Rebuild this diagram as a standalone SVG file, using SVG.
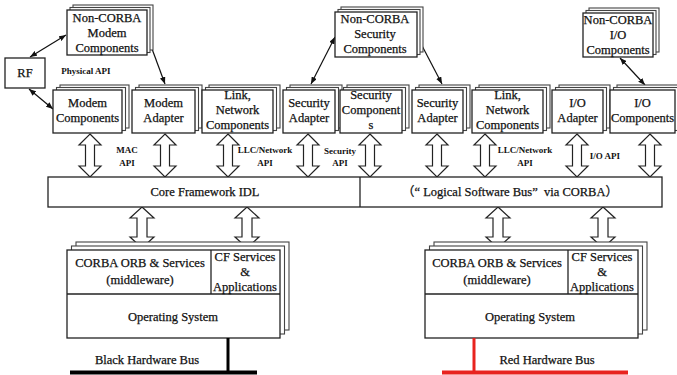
<svg xmlns="http://www.w3.org/2000/svg" width="677" height="375" viewBox="0 0 677 375">
  <defs>
    <style>
      .bx { fill: #fff; stroke: #222; stroke-width: 1.3; }
      .bk { fill: #fff; stroke: #444; stroke-width: 1.1; }
      .t { font-family: "Liberation Serif", "Noto Sans CJK SC", serif; font-size: 12.5px; fill: #111; stroke: #111; stroke-width: 0.25; text-anchor: middle; }
      .s { font-family: "Liberation Serif", serif; font-size: 9px; font-weight: bold; fill: #111; text-anchor: middle; }
      .ln { stroke: #111; stroke-width: 1.2; fill: none; marker-start: url(#ah); marker-end: url(#ah); }
      .blk { fill: #fff; stroke: #222; stroke-width: 1.2; stroke-linejoin: miter; }
    </style>
    <marker id="ah" viewBox="0 0 10 8" refX="10" refY="4" markerWidth="7" markerHeight="5.6" markerUnits="userSpaceOnUse" orient="auto-start-reverse">
      <path d="M0,0 L10,4 L0,8 z" fill="#111"/>
    </marker>
    <!-- hollow double-headed block arrow, centred on x=0, 43 px tall -->
    <polygon id="dbl" points="0,0 11,11 4.5,11 4.5,32 11,32 0,43 -11,32 -4.5,32 -4.5,11 -11,11"/>
    <polygon id="dbl2" points="0,0 12,11 5,11 5,30 12,30 0,41 -12,30 -5,30 -5,11 -12,11"/>
  </defs>
  <rect width="677" height="375" fill="#fff"/>

  <!-- connectors -->
  <g id="connectors">
    <line class="ln" x1="30" y1="57" x2="66" y2="35"/>
    <line class="ln" x1="29" y1="89" x2="53" y2="109"/>
    <line class="ln" x1="148" y1="38" x2="165" y2="84"/>
    <line class="ln" x1="335" y1="37" x2="311" y2="84"/>
    <line class="ln" x1="418" y1="38" x2="442" y2="84"/>
    <line class="ln" x1="620" y1="58" x2="645" y2="85"/>
    <use href="#dbl" class="blk" x="90" y="134"/>
    <use href="#dbl" class="blk" x="165" y="134"/>
    <use href="#dbl" class="blk" x="228" y="134"/>
    <use href="#dbl" class="blk" x="308" y="134"/>
    <use href="#dbl" class="blk" x="370" y="134"/>
    <use href="#dbl" class="blk" x="437" y="134"/>
    <use href="#dbl" class="blk" x="485" y="134"/>
    <use href="#dbl" class="blk" x="577" y="134"/>
    <use href="#dbl" class="blk" x="650" y="134"/>
    <use href="#dbl2" class="blk" x="142" y="207"/>
    <use href="#dbl2" class="blk" x="247" y="207"/>
    <use href="#dbl2" class="blk" x="498" y="207"/>
    <use href="#dbl2" class="blk" x="603" y="207"/>
  </g>

  <!-- API labels -->
  <g id="api-labels">
    <text class="s" x="86" y="74">Physical API</text>
    <text class="s" x="127" y="153">MAC</text>
    <text class="s" x="127" y="166">API</text>
    <text class="s" x="265" y="153">LLC/Network</text>
    <text class="s" x="265" y="166">API</text>
    <text class="s" x="340" y="154">Security</text>
    <text class="s" x="340" y="166">API</text>
    <text class="s" x="525" y="153">LLC/Network</text>
    <text class="s" x="525" y="166">API</text>
    <text class="s" x="605" y="159">I/O API</text>
  </g>

  <!-- RF -->
  <g id="rf">
    <rect class="bx" x="5" y="58" width="40" height="30"/>
    <text class="t" x="25" y="77">RF</text>
  </g>

  <!-- non-CORBA components -->
  <g id="noncorba-modem">
    <rect class="bk" x="73" y="5" width="80" height="45"/>
    <rect class="bk" x="70" y="7.5" width="80" height="45"/>
    <rect class="bx" x="67" y="10" width="80" height="45"/>
    <text class="t" x="107" y="22">Non-CORBA</text>
    <text class="t" x="107" y="37">Modem</text>
    <text class="t" x="107" y="52">Components</text>
  </g>
  <g id="noncorba-security">
    <rect class="bk" x="341" y="7" width="82" height="45"/>
    <rect class="bk" x="338" y="9.5" width="82" height="45"/>
    <rect class="bx" x="335" y="12" width="82" height="45"/>
    <text class="t" x="375" y="23">Non-CORBA</text>
    <text class="t" x="375" y="38">Security</text>
    <text class="t" x="375" y="53">Components</text>
  </g>
  <g id="noncorba-io">
    <rect class="bk" x="589" y="8" width="70" height="44"/>
    <rect class="bk" x="586" y="10.5" width="70" height="44"/>
    <rect class="bx" x="583" y="13" width="70" height="44"/>
    <text class="t" x="618" y="24">Non-CORBA</text>
    <text class="t" x="618" y="39">I/O</text>
    <text class="t" x="618" y="54">Components</text>
  </g>

  <!-- CORBA components row -->
  <g id="modem-components">
    <rect class="bk" x="60" y="85" width="69" height="43"/>
    <rect class="bk" x="56.5" y="87.5" width="69" height="43"/>
    <rect class="bx" x="53" y="90" width="69" height="43"/>
    <text class="t" x="87.5" y="107">Modem</text>
    <text class="t" x="87.5" y="122">Components</text>
  </g>
  <g id="modem-adapter">
    <rect class="bk" x="139" y="85" width="63" height="43"/>
    <rect class="bk" x="135.5" y="87.5" width="63" height="43"/>
    <rect class="bx" x="132" y="90" width="63" height="43"/>
    <text class="t" x="163.5" y="107">Modem</text>
    <text class="t" x="163.5" y="122">Adapter</text>
  </g>
  <g id="link-network-1">
    <rect class="bk" x="209" y="85" width="71" height="43"/>
    <rect class="bk" x="205.5" y="87.5" width="71" height="43"/>
    <rect class="bx" x="202" y="90" width="71" height="43"/>
    <text class="t" x="237.5" y="99">Link,</text>
    <text class="t" x="237.5" y="114">Network</text>
    <text class="t" x="237.5" y="129">Components</text>
  </g>
  <g id="security-adapter-1">
    <rect class="bk" x="290" y="85" width="52" height="43"/>
    <rect class="bk" x="286.5" y="87.5" width="52" height="43"/>
    <rect class="bx" x="283" y="90" width="52" height="43"/>
    <text class="t" x="309" y="107">Security</text>
    <text class="t" x="309" y="122">Adapter</text>
  </g>
  <g id="security-components">
    <rect class="bk" x="347" y="85" width="62" height="43"/>
    <rect class="bk" x="343.5" y="87.5" width="62" height="43"/>
    <rect class="bx" x="340" y="90" width="62" height="43"/>
    <text class="t" x="371" y="99">Security</text>
    <text class="t" x="371" y="114">Component</text>
    <text class="t" x="371" y="129">s</text>
  </g>
  <g id="security-adapter-2">
    <rect class="bk" x="419" y="85" width="51" height="43"/>
    <rect class="bk" x="415.5" y="87.5" width="51" height="43"/>
    <rect class="bx" x="412" y="90" width="51" height="43"/>
    <text class="t" x="437.5" y="107">Security</text>
    <text class="t" x="437.5" y="122">Adapter</text>
  </g>
  <g id="link-network-2">
    <rect class="bk" x="479" y="85" width="71" height="43"/>
    <rect class="bk" x="475.5" y="87.5" width="71" height="43"/>
    <rect class="bx" x="472" y="90" width="71" height="43"/>
    <text class="t" x="507.5" y="99">Link,</text>
    <text class="t" x="507.5" y="114">Network</text>
    <text class="t" x="507.5" y="129">Components</text>
  </g>
  <g id="io-adapter">
    <rect class="bk" x="559" y="85" width="51" height="43"/>
    <rect class="bk" x="555.5" y="87.5" width="51" height="43"/>
    <rect class="bx" x="552" y="90" width="51" height="43"/>
    <text class="t" x="577.5" y="107">I/O</text>
    <text class="t" x="577.5" y="122">Adapter</text>
  </g>
  <g id="io-components">
    <rect class="bk" x="617" y="85" width="65" height="43"/>
    <rect class="bk" x="613.5" y="87.5" width="65" height="43"/>
    <rect class="bx" x="610" y="90" width="65" height="43"/>
    <text class="t" x="642.5" y="107">I/O</text>
    <text class="t" x="642.5" y="122">Components</text>
  </g>

  <!-- software bus -->
  <g id="software-bus">
    <rect class="bx" x="48" y="177" width="614" height="30"/>
    <line x1="360" y1="177" x2="360" y2="207" stroke="#222" stroke-width="1.3"/>
    <text class="t" x="205" y="196">Core Framework IDL</text>
    <text class="t" x="510" y="196" xml:space="preserve">（“ Logical Software Bus”  via CORBA）</text>
  </g>

  <!-- black side platform -->
  <g id="black-platform">
    <rect class="bk" x="76" y="242" width="213" height="88"/>
    <rect class="bk" x="71.5" y="246" width="213" height="88"/>
    <rect class="bx" x="67" y="250" width="213" height="88"/>
    <line x1="67" y1="294" x2="280" y2="294" stroke="#222" stroke-width="1.3"/>
    <line x1="211" y1="250" x2="211" y2="294" stroke="#222" stroke-width="1.3"/>
    <text class="t" x="140" y="267">CORBA ORB &amp; Services</text>
    <text class="t" x="140" y="284">(middleware)</text>
    <text class="t" x="245" y="261">CF Services</text>
    <text class="t" x="245" y="276">&amp;</text>
    <text class="t" x="245" y="291">Applications</text>
    <text class="t" x="173" y="321">Operating System</text>
  </g>
  <g id="black-bus">
    <line x1="228" y1="338" x2="228" y2="373" stroke="#000" stroke-width="3"/>
    <line x1="70" y1="372.5" x2="257" y2="372.5" stroke="#000" stroke-width="4"/>
    <text class="t" x="147" y="364">Black Hardware Bus</text>
  </g>

  <!-- red side platform -->
  <g id="red-platform">
    <rect class="bk" x="434" y="242" width="213" height="88"/>
    <rect class="bk" x="429.5" y="246" width="213" height="88"/>
    <rect class="bx" x="425" y="250" width="213" height="88"/>
    <line x1="425" y1="294" x2="638" y2="294" stroke="#222" stroke-width="1.3"/>
    <line x1="568" y1="250" x2="568" y2="294" stroke="#222" stroke-width="1.3"/>
    <text class="t" x="497" y="267">CORBA ORB &amp; Services</text>
    <text class="t" x="497" y="284">(middleware)</text>
    <text class="t" x="602" y="261">CF Services</text>
    <text class="t" x="602" y="276">&amp;</text>
    <text class="t" x="602" y="291">Applications</text>
    <text class="t" x="530" y="321">Operating System</text>
  </g>
  <g id="red-bus">
    <line x1="474" y1="338" x2="474" y2="373" stroke="#e8231f" stroke-width="3"/>
    <line x1="442" y1="372.5" x2="628" y2="372.5" stroke="#e8231f" stroke-width="4"/>
    <text class="t" x="547" y="364">Red Hardware Bus</text>
  </g>
</svg>
